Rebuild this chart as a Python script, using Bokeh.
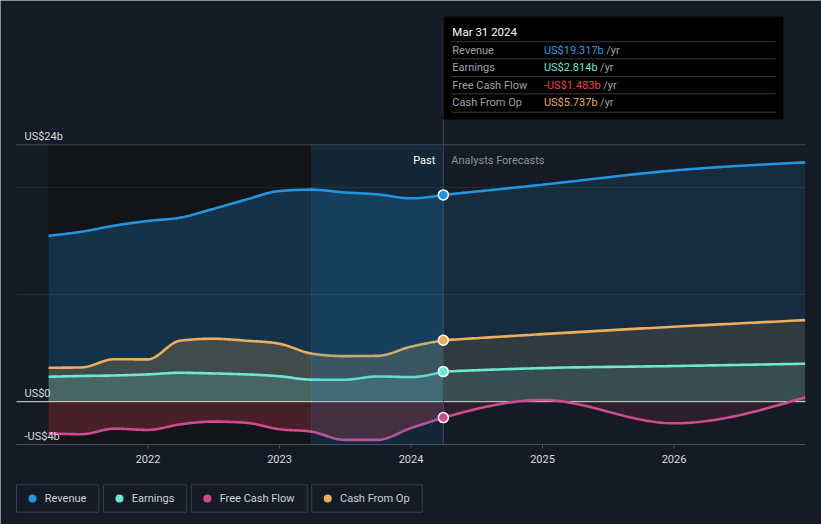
import numpy as np
import pandas as pd
from bokeh.plotting import figure
from bokeh.models import Range1d
from bokeh.core.properties import value
from bokeh.embed import file_html
from bokeh.resources import INLINE

# ---------------- data ----------------
past_dates = ["2021-03-31", "2021-06-30", "2021-09-30", "2021-12-31",
              "2022-03-31", "2022-06-30", "2022-09-30", "2022-12-31",
              "2023-03-31", "2023-06-30", "2023-09-30", "2023-12-31",
              "2024-03-31"]
forecast_dates = ["2024-03-31", "2024-12-31", "2025-12-31", "2026-12-31"]

revenue_past = [15.5, 15.88, 16.45, 16.88, 17.2, 18.0, 18.88, 19.68, 19.81, 19.55, 19.37, 19.0, 19.317]
revenue_fc = [19.317, 20.27, 21.6, 22.36]
earnings_past = [2.33, 2.4, 2.45, 2.55, 2.7, 2.64, 2.55, 2.38, 2.06, 2.05, 2.36, 2.3, 2.814]
earnings_fc = [2.814, 3.14, 3.33, 3.55]
fcf_past = [-2.95, -3.04, -2.52, -2.64, -2.12, -1.86, -1.97, -2.57, -2.8, -3.57, -3.57, -2.48, -1.483]
fcf_fc = [-1.483, 0.16, -2.02, 0.41]
cfo_past = [3.17, 3.2, 3.97, 3.95, 5.7, 5.88, 5.7, 5.42, 4.5, 4.26, 4.28, 5.13, 5.737]
cfo_fc = [5.737, 6.31, 7.0, 7.62]

series_names = ["Revenue", "Earnings", "Free Cash Flow", "Cash From Op"]
x_tick_years = [2022, 2023, 2024, 2025, 2026]
x_tick_labels = ["2022", "2023", "2024", "2025", "2026"]
y_label_values = [24, 0, -4]
y_label_texts = ["US$24b", "US$0", "-US$4b"]
y_grid_values = [10, 20]
highlight_start_date = "2023-03-31"
now_date = "2024-03-31"

# ---------------- styles ----------------
BG = "#151b26"
FONT = "Roboto"
LINE_COLORS = {"Revenue": "#2394df", "Earnings": "#6ee6d2",
               "Free Cash Flow": "#d1498e", "Cash From Op": "#eaae5c"}
FILL_COLORS = {"Revenue": "#2394df", "Earnings": "#71e7d6",
               "Free Cash Flow": "#e0434f", "Cash From Op": "#eeb05e"}
VALUE_COLORS = {"Revenue": "#2d9be6", "Earnings": "#6ee6d2",
                "Free Cash Flow": "#f0414d", "Cash From Op": "#eaae5c"}
ALPHA_PAST = {"Revenue": 0.24, "Earnings": 0.17, "Free Cash Flow": 0.27, "Cash From Op": 0.2}
ALPHA_FC = {"Revenue": 0.14, "Earnings": 0.11, "Free Cash Flow": 0.12, "Cash From Op": 0.12}

CHAR_W = {'a': .544, 'b': .561, 'c': .523, 'd': .563, 'e': .529, 'g': .56, 'h': .551, 'i': .243,
          'l': .243, 'm': .876, 'n': .552, 'o': .57, 'p': .561, 'r': .338, 's': .516, 't': .327,
          'u': .551, 'v': .484, 'w': .751, 'y': .473, ' ': .248, '.': .263, '$': .561, '-': .276,
          '/': .412, 'U': .638, 'S': .593, 'R': .615, 'E': .567, 'F': .553, 'C': .652, 'O': .688,
          'M': .873}


def text_w(s, size=11):
    return sum(CHAR_W.get(c, .561 if c.isdigit() else .55) for c in s) * size


def dyear(s):
    ts = pd.Timestamp(s)
    days = 366 if ts.is_leap_year else 365
    return ts.year + (ts.dayofyear - 1) / days


def monotone(xs, ys, n=30):
    x = np.asarray(xs, float)
    y = np.asarray(ys, float)
    h = np.diff(x)
    s = np.diff(y) / h
    m = np.zeros_like(y)
    for i in range(1, len(x) - 1):
        h0, h1, s0, s1 = h[i - 1], h[i], s[i - 1], s[i]
        pp = (s0 * h1 + s1 * h0) / (h0 + h1)
        sg0 = -1 if s0 < 0 else 1
        sg1 = -1 if s1 < 0 else 1
        m[i] = (sg0 + sg1) * min(abs(s0), abs(s1), 0.5 * abs(pp))
    if len(x) > 2:
        m[0] = (3 * s[0] - m[1]) / 2
        m[-1] = (3 * s[-1] - m[-2]) / 2
    else:
        m[0] = m[-1] = s[0]
    ox, oy = [], []
    for i in range(len(h)):
        t = np.linspace(0, 1, n, endpoint=(i == len(h) - 1))
        h00 = 2 * t**3 - 3 * t**2 + 1
        h10 = t**3 - 2 * t**2 + t
        h01 = -2 * t**3 + 3 * t**2
        h11 = t**3 - t**2
        oy.append(h00 * y[i] + h10 * h[i] * m[i] + h01 * y[i + 1] + h11 * h[i] * m[i + 1])
        ox.append(x[i] + t * h[i])
    return np.concatenate(ox), np.concatenate(oy)


px_past = [dyear(d) for d in past_dates]
px_fc = [dyear(d) for d in forecast_dates]
now = dyear(now_date)
hl_start = dyear(highlight_start_date)

data = {
    "Revenue": (revenue_past, revenue_fc),
    "Earnings": (earnings_past, earnings_fc),
    "Free Cash Flow": (fcf_past, fcf_fc),
    "Cash From Op": (cfo_past, cfo_fc),
}

# ---------------- geometry (page pixels -> data) ----------------
W, H = 821, 524
X_START, X_END = 2021.0, 2027.0
Y_BOT, Y_TOP_LINE = -4.0, 24.0
PAGE_LEFT, PAGE_RIGHT = 16.0, 805.0
PAGE_Y_BOT, PAGE_Y_24 = 444.0, 144.3
XPP = (X_END - X_START) / (PAGE_RIGHT - PAGE_LEFT)
YPP = (Y_TOP_LINE - Y_BOT) / (PAGE_Y_BOT - PAGE_Y_24)


def px_x(px):
    return X_START + (px - PAGE_LEFT) * XPP


def px_y(py):
    return Y_BOT + (PAGE_Y_BOT - py) * YPP


p = figure(width=W, height=H,
           x_range=Range1d(px_x(0), px_x(W)), y_range=Range1d(px_y(H), px_y(0)),
           output_backend="svg", toolbar_location=None, min_border=0,
           x_axis_location=None, y_axis_location=None,
           background_fill_color=BG, border_fill_color=BG, outline_line_color=None)
p.grid.visible = False

# darker past region
p.quad(left=[px_past[0]], right=[now], bottom=[Y_BOT], top=[Y_TOP_LINE],
       fill_color="#111419", line_color=None)

# area fills
for name in ["Revenue", "Cash From Op", "Earnings", "Free Cash Flow"]:
    past, fc = data[name]
    xs, ys = monotone(px_past, past)
    p.varea(x=xs, y1=np.zeros_like(ys), y2=ys, fill_color=FILL_COLORS[name],
            fill_alpha=ALPHA_PAST[name])
    xs, ys = monotone(px_fc, fc)
    p.varea(x=xs, y1=np.zeros_like(ys), y2=ys, fill_color=FILL_COLORS[name],
            fill_alpha=ALPHA_FC[name])

# grid lines
p.segment(x0=[X_START] * len(y_grid_values), x1=[X_END] * len(y_grid_values),
          y0=y_grid_values, y1=y_grid_values, line_color="#ffffff", line_alpha=0.08, line_width=1)
p.segment(x0=[X_START], x1=[X_END], y0=[Y_TOP_LINE], y1=[Y_TOP_LINE],
          line_color="#ffffff", line_alpha=0.2, line_width=1)
p.segment(x0=[X_START], x1=[X_END], y0=[0], y1=[0], line_color="#d8dadd", line_width=1)

# x axis (line, ticks, labels)
p.segment(x0=[X_START], x1=[X_END], y0=[Y_BOT], y1=[Y_BOT], line_color="#4a505b", line_width=1)
p.segment(x0=x_tick_years, x1=x_tick_years, y0=[Y_BOT] * 5, y1=[Y_BOT - 4 * YPP] * 5,
          line_color="#4a505b", line_width=1)
p.text(x=x_tick_years, y=[px_y(458)] * 5, text=x_tick_labels, text_align="center",
       text_baseline="middle", text_color="#d7dade", text_font=value(FONT),
       text_font_size="11px")

# lines
for name in ["Revenue", "Cash From Op", "Earnings", "Free Cash Flow"]:
    past, fc = data[name]
    for xx, yy in (monotone(px_past, past), monotone(px_fc, fc)):
        p.line(xx, yy, line_color=LINE_COLORS[name], line_width=2.6)

# highlight band (last 12 months)
p.quad(left=[hl_start], right=[now], bottom=[Y_BOT], top=[Y_TOP_LINE],
       fill_color="#2394df", fill_alpha=0.15, line_color=None)
p.segment(x0=[hl_start], x1=[hl_start], y0=[Y_BOT], y1=[Y_TOP_LINE],
          line_color="#ffffff", line_alpha=0.07, line_width=1)
p.segment(x0=[now], x1=[now], y0=[Y_BOT], y1=[px_y(16)],
          line_color="#3b4a5e", line_width=1)

# markers at "now"
last_vals = [data[n][0][-1] for n in series_names]
p.scatter(x=[now] * 4, y=last_vals, size=10,
          fill_color=[LINE_COLORS[n] for n in series_names],
          line_color="#ffffff", line_width=1.5)

# y labels
p.text(x=[X_START] * len(y_label_values), y=y_label_values, text=y_label_texts,
       x_offset=8, y_offset=-8, text_baseline="alphabetic", text_align="left",
       text_color="#d7dade", text_font=value(FONT), text_font_size="11px")

# Past / Analysts Forecasts
p.text(x=[now], y=[Y_TOP_LINE], text=["Past"], x_offset=-8, y_offset=16,
       text_align="right", text_baseline="alphabetic", text_color="#ffffff",
       text_font=value(FONT), text_font_size="11px")
p.text(x=[now], y=[Y_TOP_LINE], text=["Analysts Forecasts"], x_offset=8, y_offset=16,
       text_align="left", text_baseline="alphabetic", text_color="#8c929b",
       text_font=value(FONT), text_font_size="11px")

# tooltip box
p.quad(left=[now], right=[px_x(783)], top=[px_y(16)], bottom=[px_y(119)],
       fill_color="#000000", line_color=None)
nd = pd.Timestamp(now_date)
title = f"{nd:%b} {nd.day} {nd.year}"
p.text(x=[now], y=[px_y(31)], text=[title], x_offset=9, text_baseline="middle",
       text_color="#ffffff", text_font=value(FONT), text_font_size="11.5px")
sep_y = [41.3, 58.3, 76.0, 93.3, 111.7]
p.segment(x0=[now + 8 * XPP] * 5, x1=[px_x(775)] * 5,
          y0=[px_y(v) for v in sep_y], y1=[px_y(v) for v in sep_y],
          line_color="#3a3a3a", line_width=1)
row_y = [49.5, 67.0, 84.5, 102.0]
for i, name in enumerate(series_names):
    v = last_vals[i]
    vtxt = f"-US${abs(v):.3f}b" if v < 0 else f"US${v:.3f}b"
    yy = px_y(row_y[i])
    p.text(x=[now], y=[yy], text=[name], x_offset=9, text_baseline="middle",
           text_color="#9ea3a9", text_font=value(FONT), text_font_size="11px")
    vx = 100.6
    p.text(x=[now], y=[yy], text=[vtxt], x_offset=vx, text_baseline="middle",
           text_color=VALUE_COLORS[name], text_font=value(FONT), text_font_size="11px")
    p.text(x=[now], y=[yy], text=["/yr"], x_offset=vx + text_w(vtxt) + text_w(" "),
           text_baseline="middle", text_color="#9ea3a9",
           text_font=value(FONT), text_font_size="11px")

# ---------------- legend ----------------
left = 16.0
lefts, rights, dots_x, txt_x = [], [], [], []
for name in series_names:
    w = 28.3 + text_w(name) + 12.4
    lefts.append(px_x(left))
    rights.append(px_x(left + w))
    dots_x.append(px_x(left + 16))
    txt_x.append(px_x(left + 28.3))
    left += w + 4.6
p.quad(left=lefts, right=rights, top=[px_y(484.3)] * 4, bottom=[px_y(511.7)] * 4,
       fill_color=BG, line_color="#3b404a", line_width=1)
p.scatter(x=dots_x, y=[px_y(498)] * 4, size=8, line_color=None,
          fill_color=[LINE_COLORS[n] for n in series_names])
p.text(x=txt_x, y=[px_y(497.7)] * 4, text=series_names, text_baseline="middle",
       text_color="#cfd2d7", text_font=value(FONT), text_font_size="11px")

open("out.html", "w").write(file_html(p, INLINE))
